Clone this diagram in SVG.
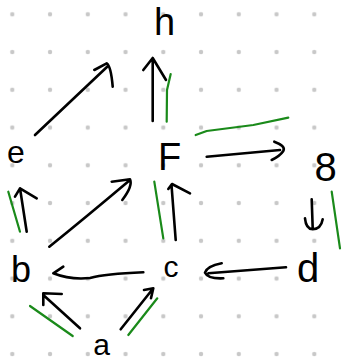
<svg xmlns="http://www.w3.org/2000/svg" width="347" height="360" viewBox="0 0 347 360">
<defs>
<pattern id="dots" x="0" y="0" width="37.75" height="37.75" patternUnits="userSpaceOnUse" patternTransform="translate(12.3 14.3)">
<circle cx="0" cy="0" r="2.2" fill="#c8c8c8"/>
<circle cx="37.75" cy="0" r="2.2" fill="#c8c8c8"/>
<circle cx="0" cy="37.75" r="2.2" fill="#c8c8c8"/>
<circle cx="37.75" cy="37.75" r="2.2" fill="#c8c8c8"/>
</pattern>
<style>
.ink{fill:none;stroke:#000;stroke-width:2.6;stroke-linecap:round;stroke-linejoin:round}
.hl{fill:none;stroke:#1a8a1a;stroke-width:2.2;stroke-linecap:round;stroke-linejoin:round}
.lbl{font-family:"Liberation Sans","DejaVu Sans",sans-serif;fill:#000;text-anchor:middle}
</style>
</defs>
<rect width="347" height="360" fill="#fff"/>
<rect width="347" height="360" fill="url(#dots)"/>

<g id="connectors">
<!-- F -> h -->
<path class="ink" d="M152.7 121 L152.7 58 M143.3 70 L152.7 58 L166 80"/>
<path class="hl" d="M166.7 121.7 L167 90 L170.7 74"/>
<!-- e -> h -->
<path class="ink" d="M35 135 L108 66 M94.3 70 L106.7 63.3 Q111 66 112.7 86.7"/>
<!-- F -> g -->
<path class="ink" d="M206.7 156.7 L280 150 M274.3 141.7 Q286 146 283.3 151 Q280 156 271.7 160"/>
<path class="hl" d="M195.7 135 L206.7 131 L253.3 125 L288.3 117.7"/>
<!-- b -> e -->
<path class="ink" d="M26.7 231.7 L20 188.3 M15 196.7 L20 188.3 L36.7 198.3"/>
<path class="hl" d="M8.3 191.7 L20 231.7"/>
<!-- b -> F -->
<path class="ink" d="M49.3 246.7 Q85 218 130 180 M111.7 181.7 L130 179.3 Q133 186 122.3 200"/>
<!-- c -> F -->
<path class="ink" d="M175.7 240 L171.5 185 M168.3 189 L172 184 L190 193.3"/>
<path class="hl" d="M154.3 181.7 L163.3 238.3"/>
<!-- g -> d -->
<path class="ink" d="M311.7 199.3 L312.7 228.3 M305 218.3 Q306 229 312.7 229.3 Q321 229 322.7 219.3"/>
<path class="hl" d="M331.7 191.7 L340 248.3"/>
<!-- d -> c -->
<path class="ink" d="M286 267.3 L208.3 273.3 M221.7 263.3 Q207 266 205 272.7 Q208 279 223.3 278.3"/>
<!-- c -> b -->
<path class="ink" d="M143.3 272.3 Q105 274 90 278 Q70 280 53.3 273.3 L63.3 266.7"/>
<!-- a -> b -->
<path class="ink" d="M80 328.3 L43.3 295 M43.3 305 L43.3 293.3 L61.7 294"/>
<path class="hl" d="M30 306 L72.7 336"/>
<!-- a -> c -->
<path class="ink" d="M120.7 329.3 L153.3 288.3 M144 290 L153.3 288.3 L151 298.3"/>
<path class="hl" d="M128.3 335 L157.3 298.3"/>
</g>

<g id="node-h"><text class="lbl" x="164.5" y="35" font-size="38">h</text></g>
<g id="node-e"><text class="lbl" x="16" y="163" font-size="32">e</text></g>
<g id="node-F"><text class="lbl" x="169.5" y="170" font-size="38">F</text></g>
<g id="node-g"><text class="lbl" x="325.5" y="181" font-size="40">8</text></g>
<g id="node-b"><text class="lbl" x="21" y="282" font-size="36">b</text></g>
<g id="node-c"><text class="lbl" x="171" y="277" font-size="30">c</text></g>
<g id="node-d"><text class="lbl" x="308" y="282" font-size="40">d</text></g>
<g id="node-a"><text class="lbl" x="101.5" y="355" font-size="30">a</text></g>
</svg>
